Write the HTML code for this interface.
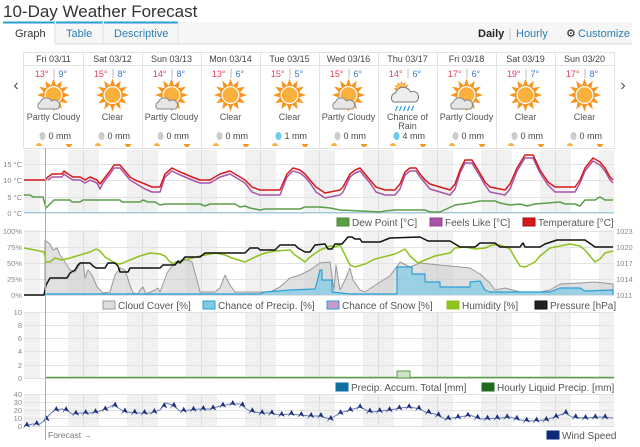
<!DOCTYPE html>
<html><head><meta charset="utf-8"><style>
body{margin:0;width:640px;height:447px;overflow:hidden;background:#fff;font-family:"Liberation Sans",sans-serif;}
svg{position:absolute;left:0;top:0}
</style></head><body>
<svg id="s" width="640" height="447" xmlns="http://www.w3.org/2000/svg"></svg>
<script>
var o='';
function t(x,y,s,sz,c,a,w){o+='<text x="'+x+'" y="'+y+'" font-size="'+sz+'" fill="'+c+'"'+(a?' text-anchor="'+a+'"':'')+(w?' font-weight="bold"':'')+'>'+s+'</text>';}
function r(x,y,w,h,f,st){o+='<rect x="'+x+'" y="'+y+'" width="'+w+'" height="'+h+'" fill="'+f+'"'+(st?' stroke="'+st+'"':'')+'/>';}
function l(x1,y1,x2,y2,c,w){o+='<line x1="'+x1+'" y1="'+y1+'" x2="'+x2+'" y2="'+y2+'" stroke="'+c+'" stroke-width="'+(w||1)+'"/>';}
function pl(p,c,w,f){o+='<polyline points="'+p.map(function(a){return a.join(',')}).join(' ')+'" fill="'+(f||'none')+'" stroke="'+c+'" stroke-width="'+(w||1.5)+'" stroke-linejoin="round"/>';}
t(3,17,'10-Day Weather Forecast',17,'#333');
r(3,22,629,22,'#f6f6f6');l(3,44,632,44,'#ddd');
r(3,22,52,23,'#fff');l(3,22.5,55,22.5,'#2a9fd6',2);
l(56,22.5,103,22.5,'#2a9fd6',2);l(104,22.5,178,22.5,'#2a9fd6',2);
l(55,22,55,44,'#ddd');l(103,22,103,44,'#ddd');l(178,22,178,44,'#ddd');
t(15,37,'Graph',11,'#333');t(66,37,'Table',11,'#2a7fb0');t(114,37,'Descriptive',11,'#2a7fb0');
t(478,37,'Daily',11,'#222','',1);l(510,28,510,40,'#ccc');t(516,37,'Hourly',11,'#2a7fb0');
t(566,37,'⚙',11,'#222');t(578,37,'Customize',11,'#2a7fb0');
var days=['Fri 03/11','Sat 03/12','Sun 03/13','Mon 03/14','Tue 03/15','Wed 03/16','Thu 03/17','Fri 03/18','Sat 03/19','Sun 03/20'];
var hi=[13,15,14,13,15,15,14,17,19,17],lo=[9,8,8,6,5,6,6,6,7,8];
var cond=['Partly Cloudy','Clear','Partly Cloudy','Clear','Clear','Partly Cloudy','R','Partly Cloudy','Clear','Clear'];
var mm=[0,0,0,0,1,0,4,0,0,0];
r(23.5,52.5,591,96,'#fff','#e3e3e3');l(24,65.5,614,65.5,'#e3e3e3');
t(16,90,'‹',16,'#555','middle');t(623,90,'›',16,'#555','middle');
function sun(cx,cy,s){var rr='';for(var i=0;i<12;i++){var a=i*Math.PI/6,b=0.28;rr+=(cx+Math.cos(a-b)*9.5*s)+','+(cy+Math.sin(a-b)*9.5*s)+' '+(cx+Math.cos(a)*16.5*s)+','+(cy+Math.sin(a)*16.5*s)+' '+(cx+Math.cos(a+b)*9.5*s)+','+(cy+Math.sin(a+b)*9.5*s)+' ';}
o+='<circle cx="'+cx+'" cy="'+cy+'" r="'+(10*s)+'" fill="#f7941d"/><polygon points="'+rr+'" fill="#f7941d"/><circle cx="'+cx+'" cy="'+cy+'" r="'+(9*s)+'" fill="#fff"/><circle cx="'+cx+'" cy="'+cy+'" r="'+(7.8*s)+'" fill="#fbb03b"/>';}
function cloud(cx,cy,s){o+='<path d="M'+(cx-9*s)+' '+(cy+5*s)+' a4 4 0 0 1 1 -7 a6 6 0 0 1 11 -1 a4.5 4.5 0 0 1 6 8 z" fill="#e6e6e6" stroke="#888" stroke-width="1"/>';}
for(var i=0;i<10;i++){var x0=24+59*i,cx=x0+29.5;
 if(i)l(x0+.5,52,x0+.5,148,'#e3e3e3');
 t(cx,62,days[i],9,'#444','middle');
 t(cx-5,77,hi[i]+'°',9,'#e0405a','end');l(cx+.5,69,cx+.5,78,'#bbb');t(cx+5,77,lo[i]+'°',9,'#3a78c8');
 if(cond[i]=='R'){sun(cx-6,89,0.5);o+='<path d="M'+(cx-14)+' 102 a5 5 0 0 1 2 -9 a8 8 0 0 1 15 -1 a5.5 5.5 0 0 1 5 10 z" fill="#eee" stroke="#777"/>';for(var k=0;k<5;k++)l(cx-10+k*4,106,cx-12+k*4,111,'#2aa0d4',1.2);t(cx,120,'Chance of',9,'#555','middle');t(cx,129,'Rain',9,'#555','middle');}
 else{sun(cx,95,1);if(cond[i]=='Partly Cloudy')cloud(cx-5,104,1);t(cx,120,cond[i],9,'#555','middle');}
 o+='<ellipse cx="'+(cx-11)+'" cy="136" rx="3" ry="4" fill="'+(mm[i]?'#6ecbee':'#ccc')+'"/>';
 t(cx-5,139,mm[i]+' mm',9,'#444');
 o+='<path d="M'+(x0+12)+' 146 a3 3 0 0 1 6 0z" fill="#fbb03b"/><path d="M'+(x0+42)+' 144 h6 a3 3 0 0 1 -6 0z" fill="#f7941d"/>';
}
var charts=[[150,213],[230,295],[312,378],[394,426]];
charts.forEach(function(c){for(var d=0;d<=10;d++){var m=24+59*d;var a=Math.max(24,m-15),b=Math.min(614,m+16);if(b>a)r(a,c[0],b-a,c[1]-c[0],'#f1f1f1');if(d>0&&d<10)l(m+.5,c[0],m+.5,c[1],'#ddd');}});
function grid(c,ys,labs,rl){ys.forEach(function(y,i){l(24,y+.5,614,y+.5,'#e2e2e2');t(22,y+3,labs[i],7.5,'#888','end');if(rl)t(616,y+3,rl[i],7.5,'#888');});}
grid(0,[164,180,197,213],['15 °C','10 °C','5 °C','0 °C']);
grid(1,[231,247,263,279,295],['100%','75%','50%','25%','0%'],['1023','1020','1017','1014','1011']);
grid(2,[312,325,338,351,365,378],['10','8','6','4','2','0']);
grid(3,[394,402,410,418,426],['40','30','20','10','0']);
var T=[[24,180],[45,180],[48,177],[52,174],[62,174],[64,171],[68,174],[73,177],[80,177],[85,180],[90,177],[97,180],[100,184],[103,180],[110,171],[114,165],[120,165],[125,171],[130,177],[135,180],[145,184],[152,187],[160,187],[165,174],[172,168],[178,171],[185,174],[192,177],[200,180],[210,180],[220,174],[230,171],[235,174],[245,180],[252,187],[260,190],[280,190],[287,174],[293,168],[300,170],[305,174],[310,180],[316,187],[325,193],[340,190],[343,187],[350,174],[355,170],[360,168],[365,174],[370,180],[376,187],[385,190],[395,190],[400,184],[405,172],[410,168],[416,168],[420,174],[425,180],[430,184],[440,187],[450,190],[455,184],[460,170],[465,160],[472,160],[478,170],[485,182],[490,187],[505,190],[510,184],[517,168],[525,155],[533,155],[540,170],[548,182],[555,187],[575,187],[580,180],[585,168],[593,158],[600,162],[605,168],[610,177],[613,180]];
var F=T.filter(function(p){return p[0]>=46}).map(function(p){return [p[0],p[1]+(p[1]>182?5:3)]});
var D=[[24,165],[30,165],[33,167],[43,167],[46,178],[50,174],[54,170],[70,170],[72,172],[80,172],[83,170],[120,170],[122,172],[140,172],[143,170],[148,172],[155,172],[160,175],[165,174],[200,174],[205,176],[210,174],[235,174],[240,177],[245,176],[250,178],[260,180],[265,179],[300,179],[305,177],[320,177],[330,178],[340,180],[380,183],[385,181],[395,180],[425,180],[430,182],[440,182],[455,175],[470,173],[480,171],[495,171],[500,173],[510,175],[520,174],[527,176],[535,174],[560,172],[565,174],[575,174],[580,176],[585,170],[595,170],[600,167],[605,170],[613,170]].map(function(p){return [p[0],Math.min(212,p[1]+30)]});
l(24,212.5,614,212.5,'#9ccbe8');
pl(D,'#5a9e4a');pl(F,'#a855a8');pl(T,'#d7191c');
var C=[[45,295],[45,240],[50,244],[53,250],[57,248],[60,255],[65,262],[70,270],[75,272],[80,264],[83,262],[85,278],[88,270],[92,275],[97,287],[103,293],[110,292],[115,275],[120,268],[125,270],[130,285],[133,293],[138,294],[140,290],[143,287],[146,294],[155,290],[158,288],[160,292],[163,284],[167,273],[175,262],[185,259],[192,262],[197,280],[200,292],[215,292],[220,288],[225,275],[230,285],[235,292],[270,292],[280,287],[290,278],[300,275],[310,270],[320,263],[330,262],[334,290],[336,265],[340,290],[345,280],[350,268],[353,280],[360,290],[365,292],[380,282],[390,276],[400,262],[410,267],[420,263],[450,266],[470,268],[480,274],[490,283],[495,290],[505,288],[520,292],[540,292],[550,290],[560,284],[580,283],[595,282],[613,284],[613,295]];
pl(C,'#999',1,'rgba(200,200,200,0.55)');
var P=[[45,295],[45,294],[260,294],[265,292],[290,290],[315,289],[317,282],[320,270],[322,270],[322,280],[332,280],[332,292],[350,294],[397,294],[397,267],[412,267],[412,274],[425,274],[425,282],[440,282],[440,287],[470,287],[470,282],[480,281],[485,290],[490,292],[550,292],[560,288],[580,288],[585,291],[613,290],[613,295]];
pl(P,'#2aa0d4',1.2,'rgba(110,198,232,0.6)');
var H=[[24,248],[35,250],[44,252],[46,262],[50,262],[55,258],[62,260],[70,258],[80,255],[90,252],[96,249],[100,251],[105,257],[115,263],[120,264],[130,260],[140,256],[150,253],[160,254],[165,256],[170,262],[175,264],[185,260],[200,256],[215,253],[225,255],[232,258],[245,262],[255,257],[265,253],[275,251],[290,250],[295,255],[305,262],[310,257],[320,250],[330,246],[335,247],[340,245],[345,255],[350,265],[355,267],[365,264],[375,259],[395,254],[405,249],[410,256],[418,263],[425,260],[435,256],[450,253],[455,248],[465,247],[475,249],[485,248],[492,245],[500,245],[510,249],[515,258],[520,266],[525,267],[535,262],[540,256],[550,248],[570,244],[580,246],[585,250],[595,262],[600,259],[605,253],[613,251]];
pl(H,'#8dc21f');
var B=[[24,295],[44,295],[46,285],[50,278],[67,278],[70,273],[75,270],[78,265],[80,263],[90,263],[93,266],[96,268],[105,268],[108,263],[115,263],[118,266],[120,272],[128,272],[130,268],[160,268],[163,265],[175,265],[178,261],[180,263],[185,257],[200,257],[205,253],[245,253],[250,248],[258,248],[260,250],[275,250],[280,245],[295,245],[298,248],[305,252],[310,252],[315,245],[325,244],[328,249],[332,249],[335,244],[342,244],[348,237],[352,237],[355,239],[360,239],[362,242],[380,242],[390,238],[420,237],[428,241],[450,241],[455,244],[460,247],[475,247],[480,243],[495,243],[500,247],[520,247],[523,243],[525,247],[540,247],[545,244],[557,240],[585,240],[595,247],[613,247]];
pl(B,'#111');
l(45,377.5,614,377.5,'#5a9e4a',1.5);r(397,371,13,7,'#cfe3c6','#5a9e4a');
var W=[[24,426],[33,424],[40,424],[45,420],[50,414],[55,410],[62,409],[68,411],[72,414],[80,413],[90,413],[100,411],[108,408],[113,405],[120,409],[125,412],[140,413],[150,413],[160,410],[166,403],[172,405],[180,411],[190,410],[200,409],[210,409],[220,406],[230,404],[240,404],[245,408],[250,411],[260,413],[270,413],[280,415],[290,414],[300,415],[310,416],[320,416],[330,419],[340,413],[350,410],[360,407],[370,412],[380,411],[390,410],[400,408],[410,407],[420,409],[425,412],[435,414],[445,419],[460,417],[470,415],[480,419],[500,418],[510,417],[520,420],[530,421],[545,420],[555,417],[565,413],[572,417],[585,418],[600,417],[613,418]];
pl(W,'#6a7fb8',1);
function wy(x){for(var i=1;i<W.length;i++)if(W[i][0]>=x){var a=W[i-1],b=W[i];return a[1]+(b[1]-a[1])*(x-a[0])/(b[0]-a[0]||1);}return 418;}
for(var x=26;x<612;x+=9.8){var y=wy(x);o+='<path d="M'+(x-3)+' '+(y+3)+' L'+(x+1)+' '+(y-4)+' L'+(x+4)+' '+(y+2)+' L'+x+' '+y+' z" fill="#1a2e7a"/>';}
l(45.5,148,45.5,440,'#aaa');
t(48,438,'Forecast →',8.5,'#777');
function lg(x,y,c,s,bc){r(x,y-8,12,8,c,bc||'#555');t(x+15,y,s,10,'#555');}
lg(337,226,'#5a9e4a','Dew Point [°C]','#4a8a3a');lg(430,226,'#a855a8','Feels Like [°C]','#884488');lg(523,226,'#d7191c','Temperature [°C]','#a01010');
lg(103,309,'#ddd','Cloud Cover [%]','#999');lg(203,309,'#7fcbe6','Chance of Precip. [%]','#2aa0d4');lg(327,309,'#cc99cc','Chance of Snow [%]','#2aa0d4');lg(447,309,'#8dc21f','Humidity [%]','#8dc21f');lg(535,309,'#222','Pressure [hPa]','#111');
lg(336,391,'#0f6fa0','Precip. Accum. Total [mm]','#0f6fa0');lg(482,391,'#1e6b1e','Hourly Liquid Precip. [mm]','#1e6b1e');
lg(547,439,'#0a2b7a','Wind Speed','#0a2b7a');
document.getElementById('s').innerHTML=o;
</script>
</body></html>
